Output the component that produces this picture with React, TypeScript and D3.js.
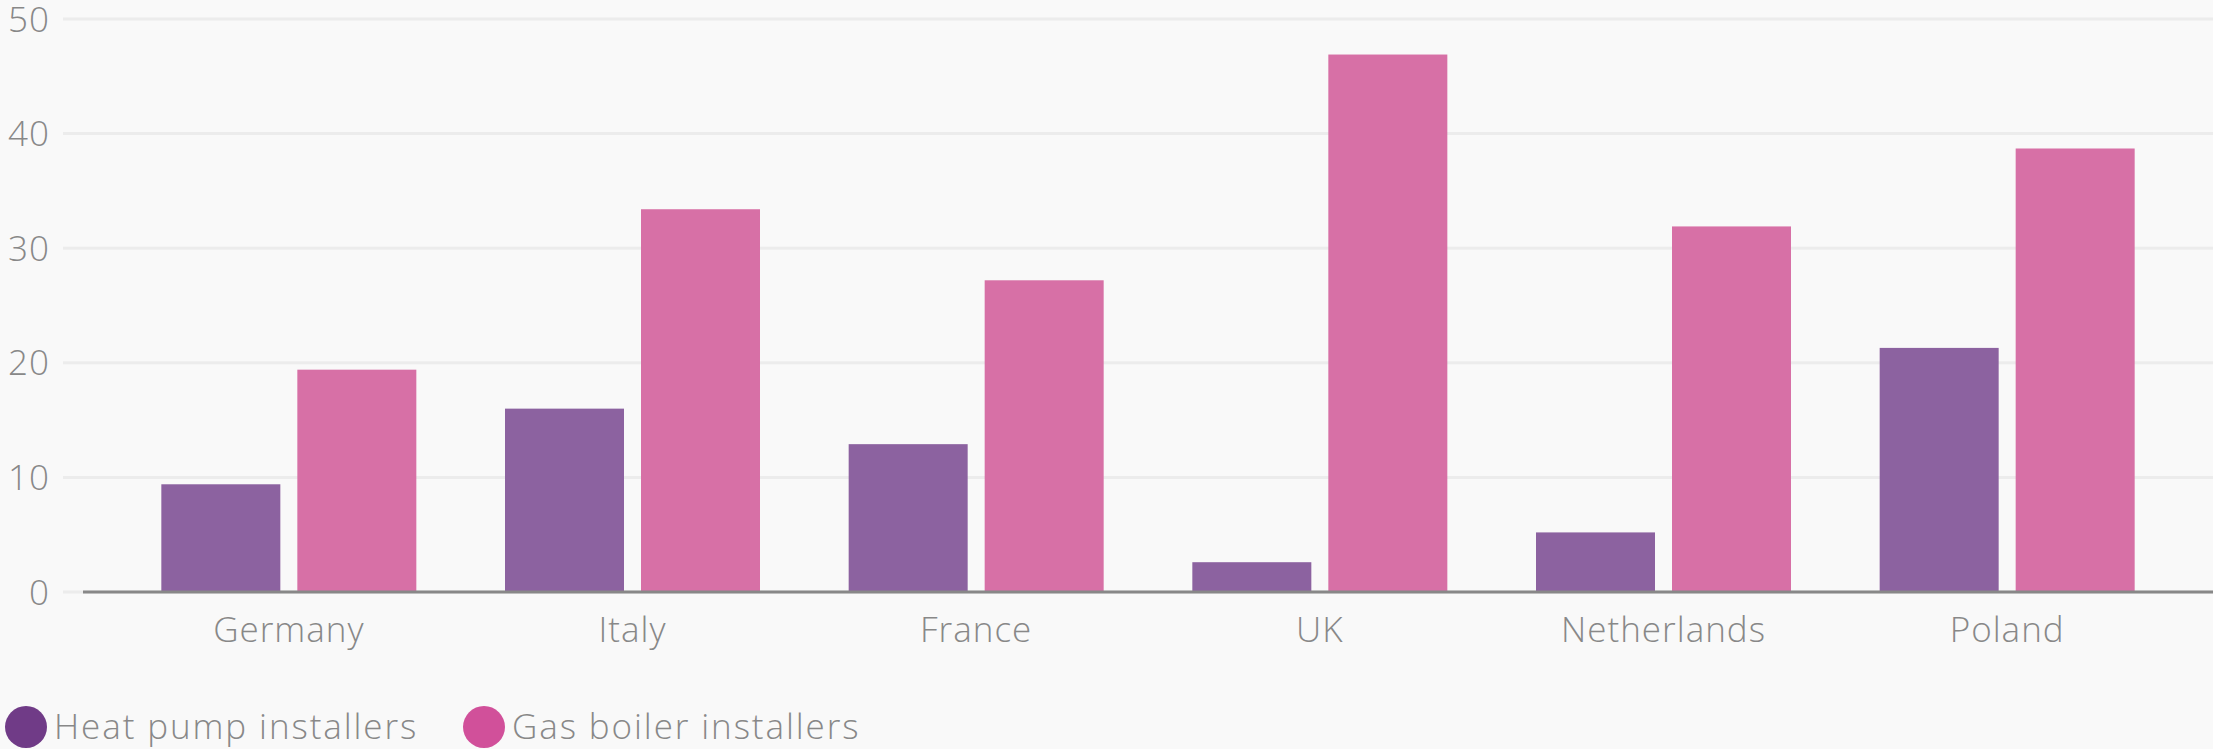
import React, { useEffect, useRef } from 'react';
import * as d3 from 'd3';

const countries = ['Germany', 'Italy', 'France', 'UK', 'Netherlands', 'Poland'];
const seriesNames = ['Heat pump installers', 'Gas boiler installers'];
const heatPump = [9.4, 16.0, 12.9, 2.6, 5.2, 21.3];
const gasBoiler = [19.4, 33.4, 27.2, 46.9, 31.9, 38.7];
const yTicks = [0, 10, 20, 30, 40, 50];

const barColors = ['#8c62a0', '#d770a6'];
const legendColors = ['#703b87', '#d1509a'];

const W = 2213;
const H = 749;

const App = () => {
  const ref = useRef<SVGSVGElement>(null);

  useEffect(() => {
    document.body.style.margin = '0';
    document.body.style.background = '#f9f9f9';

    const svg = d3.select(ref.current);
    svg.selectAll('*').remove();

    const font = '"Open Sans", Lato, sans-serif';

    const y = d3.scaleLinear().domain([0, 50]).range([592, 19]);

    const x0 = d3
      .scaleBand()
      .domain(countries)
      .range([117, 2179])
      .paddingInner(0.258)
      .paddingOuter(0.129);

    const x1 = d3
      .scaleBand()
      .domain(seriesNames)
      .range([0, x0.bandwidth()])
      .paddingInner(0.125);

    // gridlines
    svg
      .append('g')
      .selectAll('line')
      .data(yTicks)
      .join('line')
      .attr('x1', 63)
      .attr('x2', W)
      .attr('y1', d => y(d))
      .attr('y2', d => y(d))
      .attr('stroke', '#ececec')
      .attr('stroke-width', 3);

    // y tick labels
    svg
      .append('g')
      .selectAll('text')
      .data(yTicks)
      .join('text')
      .attr('x', 50)
      .attr('y', d => y(d))
      .attr('dy', '0.36em')
      .attr('text-anchor', 'end')
      .attr('fill', '#888')
      .style('font-family', font)
      .style('font-weight', 300)
      .style('font-size', '35px')
      .style('letter-spacing', '1px')
      .text(d => d);

    const rows = countries.map((c, i) => ({ country: c, values: [heatPump[i], gasBoiler[i]] }));

    const groups = svg
      .append('g')
      .selectAll('g')
      .data(rows)
      .join('g')
      .attr('transform', d => `translate(${x0(d.country)},0)`);

    groups
      .selectAll('rect')
      .data(d => d.values.map((v, j) => ({ key: seriesNames[j], value: v, j })))
      .join('rect')
      .attr('x', d => x1(d.key)!)
      .attr('width', x1.bandwidth())
      .attr('y', d => y(d.value))
      .attr('height', d => y(0) - y(d.value))
      .attr('fill', d => barColors[d.j]);

    // x axis line
    svg
      .append('line')
      .attr('x1', 83)
      .attr('x2', W)
      .attr('y1', y(0))
      .attr('y2', y(0))
      .attr('stroke', '#888')
      .attr('stroke-width', 3);

    // category labels
    svg
      .append('g')
      .selectAll('text')
      .data(countries)
      .join('text')
      .attr('x', d => x0(d)! + x0.bandwidth() / 2)
      .attr('y', 642)
      .attr('text-anchor', 'middle')
      .attr('fill', '#888')
      .style('font-family', font)
      .style('font-weight', 300)
      .style('font-size', '35px')
      .style('letter-spacing', '1px')
      .text(d => d);

    // legend
    const legendX = [26, 484];
    const legend = svg
      .append('g')
      .selectAll('g')
      .data(seriesNames)
      .join('g')
      .attr('transform', (d, i) => `translate(${legendX[i]},727)`);

    legend
      .append('circle')
      .attr('r', 21)
      .attr('fill', (d, i) => legendColors[i]);

    legend
      .append('text')
      .attr('x', 28)
      .attr('y', 12)
      .attr('fill', '#888')
      .style('font-family', font)
      .style('font-weight', 300)
      .style('font-size', '35px')
      .style('letter-spacing', '1.9px')
      .text(d => d);
  }, []);

  return <svg ref={ref} width={W} height={H} style={{ display: 'block', background: '#f9f9f9' }} />;
};

export default App;
